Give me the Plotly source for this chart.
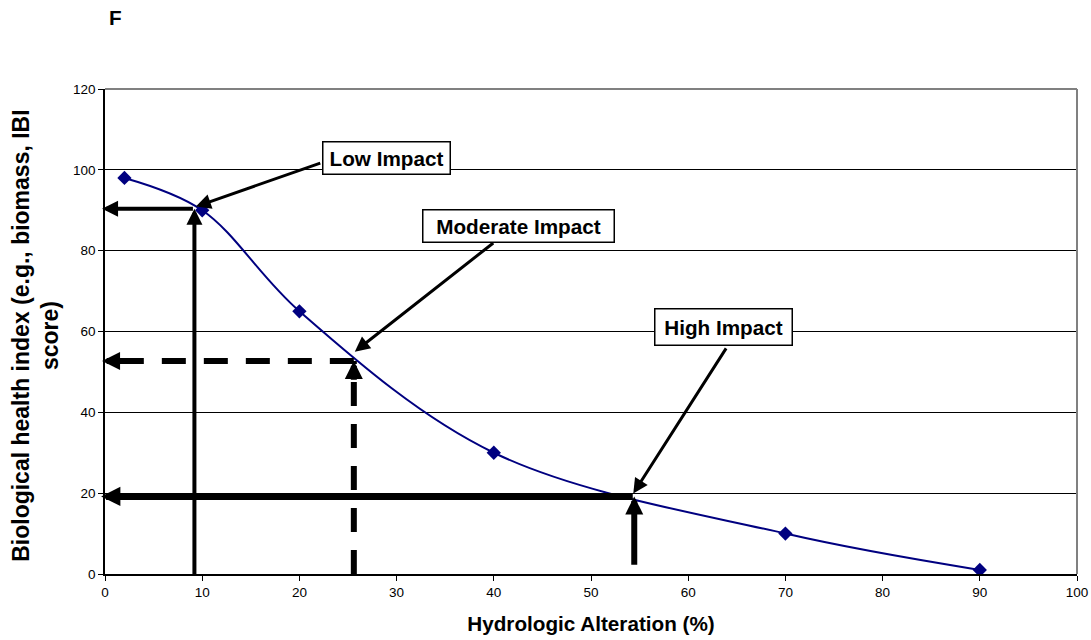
import plotly.graph_objects as go

FONT = "Liberation Sans, Arial, Helvetica, sans-serif"
NAVY = "#000080"

# Biological health response to hydrologic alteration
alteration_pct = [2, 10, 20, 40, 70, 90]
health_index = [98, 90, 65, 30, 10, 1]

x_ticks = list(range(0, 101, 10))
y_ticks = list(range(0, 121, 20))

# Threshold read-offs: (alteration %, health index)
low_point = (9.2, 90.4)
moderate_point = (25.6, 52.7)
high_point = (54.45, 19.2)
high_riser_base = 1.9

# Callout boxes: label, centre, arrow start, arrow tip, box size (px)
callout_labels = ["Low Impact", "Moderate Impact", "High Impact"]
callout_centers = [(28.95, 103.0), (42.5, 86.2), (63.6, 61.1)]
callout_starts = [(22.3, 101.8), (40.1, 82.2), (64.0, 56.2)]
callout_tips = [(9.35, 90.9), (25.7, 55.0), (54.35, 19.9)]
callout_sizes = [(124, 29), (188, 29), (134, 33)]

fig = go.Figure()

fig.add_trace(go.Scatter(
    x=alteration_pct, y=health_index,
    mode="lines+markers",
    line=dict(color=NAVY, width=2, shape="spline", smoothing=1.0),
    marker=dict(symbol="diamond", size=11, color=NAVY),
    showlegend=False, hoverinfo="x+y",
))

shapes = []
annotations = []


def solid_arrow(x0, y0, x1, y1, width, size):
    annotations.append(dict(
        x=x1, y=y1, ax=x0, ay=y0, xref="x", yref="y", axref="x", ayref="y",
        text="", showarrow=True, arrowhead=2, arrowsize=size,
        arrowwidth=width, arrowcolor="black",
    ))


def dashed_arrow(x0, y0, x1, y1, width, size, head_len):
    shapes.append(dict(
        type="line", xref="x", yref="y", x0=x0, y0=y0, x1=x1, y1=y1,
        line=dict(color="black", width=width, dash="24px,18px"),
        layer="above",
    ))
    # short solid stub carrying the arrowhead at the tip
    if x0 == x1:
        hx, hy = x1, y1 - head_len if y1 > y0 else y1 + head_len
    else:
        hx, hy = (x1 + head_len if x1 < x0 else x1 - head_len), y1
    solid_arrow(hx, hy, x1, y1, width, size)


# Low impact: solid read-off arrows
solid_arrow(low_point[0], -0.6, low_point[0], low_point[1], 4, 0.8)
solid_arrow(low_point[0], low_point[1], -0.3, low_point[1], 4, 0.8)

# Moderate impact: dashed read-off arrows
dashed_arrow(moderate_point[0], 0, moderate_point[0], moderate_point[1], 6, 0.6, 5.0)
dashed_arrow(moderate_point[0], moderate_point[1], -0.3, moderate_point[1], 6, 0.6, 2.1)

# High impact: solid read-off arrows
solid_arrow(high_point[0], high_riser_base, high_point[0], high_point[1], 6, 0.6)
solid_arrow(high_point[0], high_point[1], -0.4, high_point[1], 7, 0.55)

# Callouts
for label, (cx, cy), (sx, sy), (tx, ty), (w, h) in zip(
        callout_labels, callout_centers, callout_starts, callout_tips, callout_sizes):
    solid_arrow(sx, sy, tx, ty, 3, 1.0)
    annotations.append(dict(
        x=cx, y=cy, xref="x", yref="y", text=f"<b>{label}</b>",
        showarrow=False, width=w, height=h, bgcolor="white",
        bordercolor="black", borderwidth=1.5, borderpad=1,
        font=dict(family=FONT, size=20.7, color="black"),
        xanchor="center", yanchor="middle",
    ))

# Panel letter
annotations.append(dict(
    x=0.011, y=1.148, xref="paper", yref="paper", text="<b>F</b>",
    showarrow=False, xanchor="center", yanchor="middle",
    font=dict(family=FONT, size=20.7, color="black"),
))

# Y-axis title (two lines)
annotations.append(dict(
    x=-0.0713, y=0.4905, xref="paper", yref="paper",
    text="<b>Biological health index (e.g., biomass, IBI<br>score)</b>",
    textangle=-90, showarrow=False, xanchor="center", yanchor="middle",
    font=dict(family=FONT, size=23, color="black"),
))

# Grey frame on top and right edges
shapes.append(dict(type="line", xref="paper", yref="paper", x0=0, y0=1, x1=1, y1=1,
                   line=dict(color="#808080", width=2), layer="above"))
shapes.append(dict(type="line", xref="paper", yref="paper", x0=1, y0=0, x1=1, y1=1,
                   line=dict(color="#808080", width=2), layer="above"))

fig.update_layout(
    width=1091, height=640,
    margin=dict(l=105, r=14, t=89, b=66),
    paper_bgcolor="white", plot_bgcolor="white",
    font=dict(family=FONT, color="black"),
    shapes=shapes, annotations=annotations,
    xaxis=dict(
        range=[0, 100], tickvals=x_ticks, ticktext=[str(v) for v in x_ticks],
        showgrid=False, zeroline=False, automargin=False,
        showline=True, linecolor="black", linewidth=1.5,
        ticks="outside", ticklen=5, tickcolor="black", tickwidth=1,
        tickfont=dict(family=FONT, size=13.5, color="black"),
        title=dict(text="<b>Hydrologic Alteration (%)</b>",
                   font=dict(family=FONT, size=20.7, color="black"), standoff=18),
    ),
    yaxis=dict(
        range=[0, 120], tickvals=y_ticks, ticktext=[str(v) for v in y_ticks],
        showgrid=True, gridcolor="black", gridwidth=1, zeroline=False,
        automargin=False,
        showline=True, linecolor="black", linewidth=1.5,
        ticks="outside", ticklen=5, tickcolor="black", tickwidth=1,
        tickfont=dict(family=FONT, size=13.5, color="black"),
    ),
)

fig.write_html("out.html")
